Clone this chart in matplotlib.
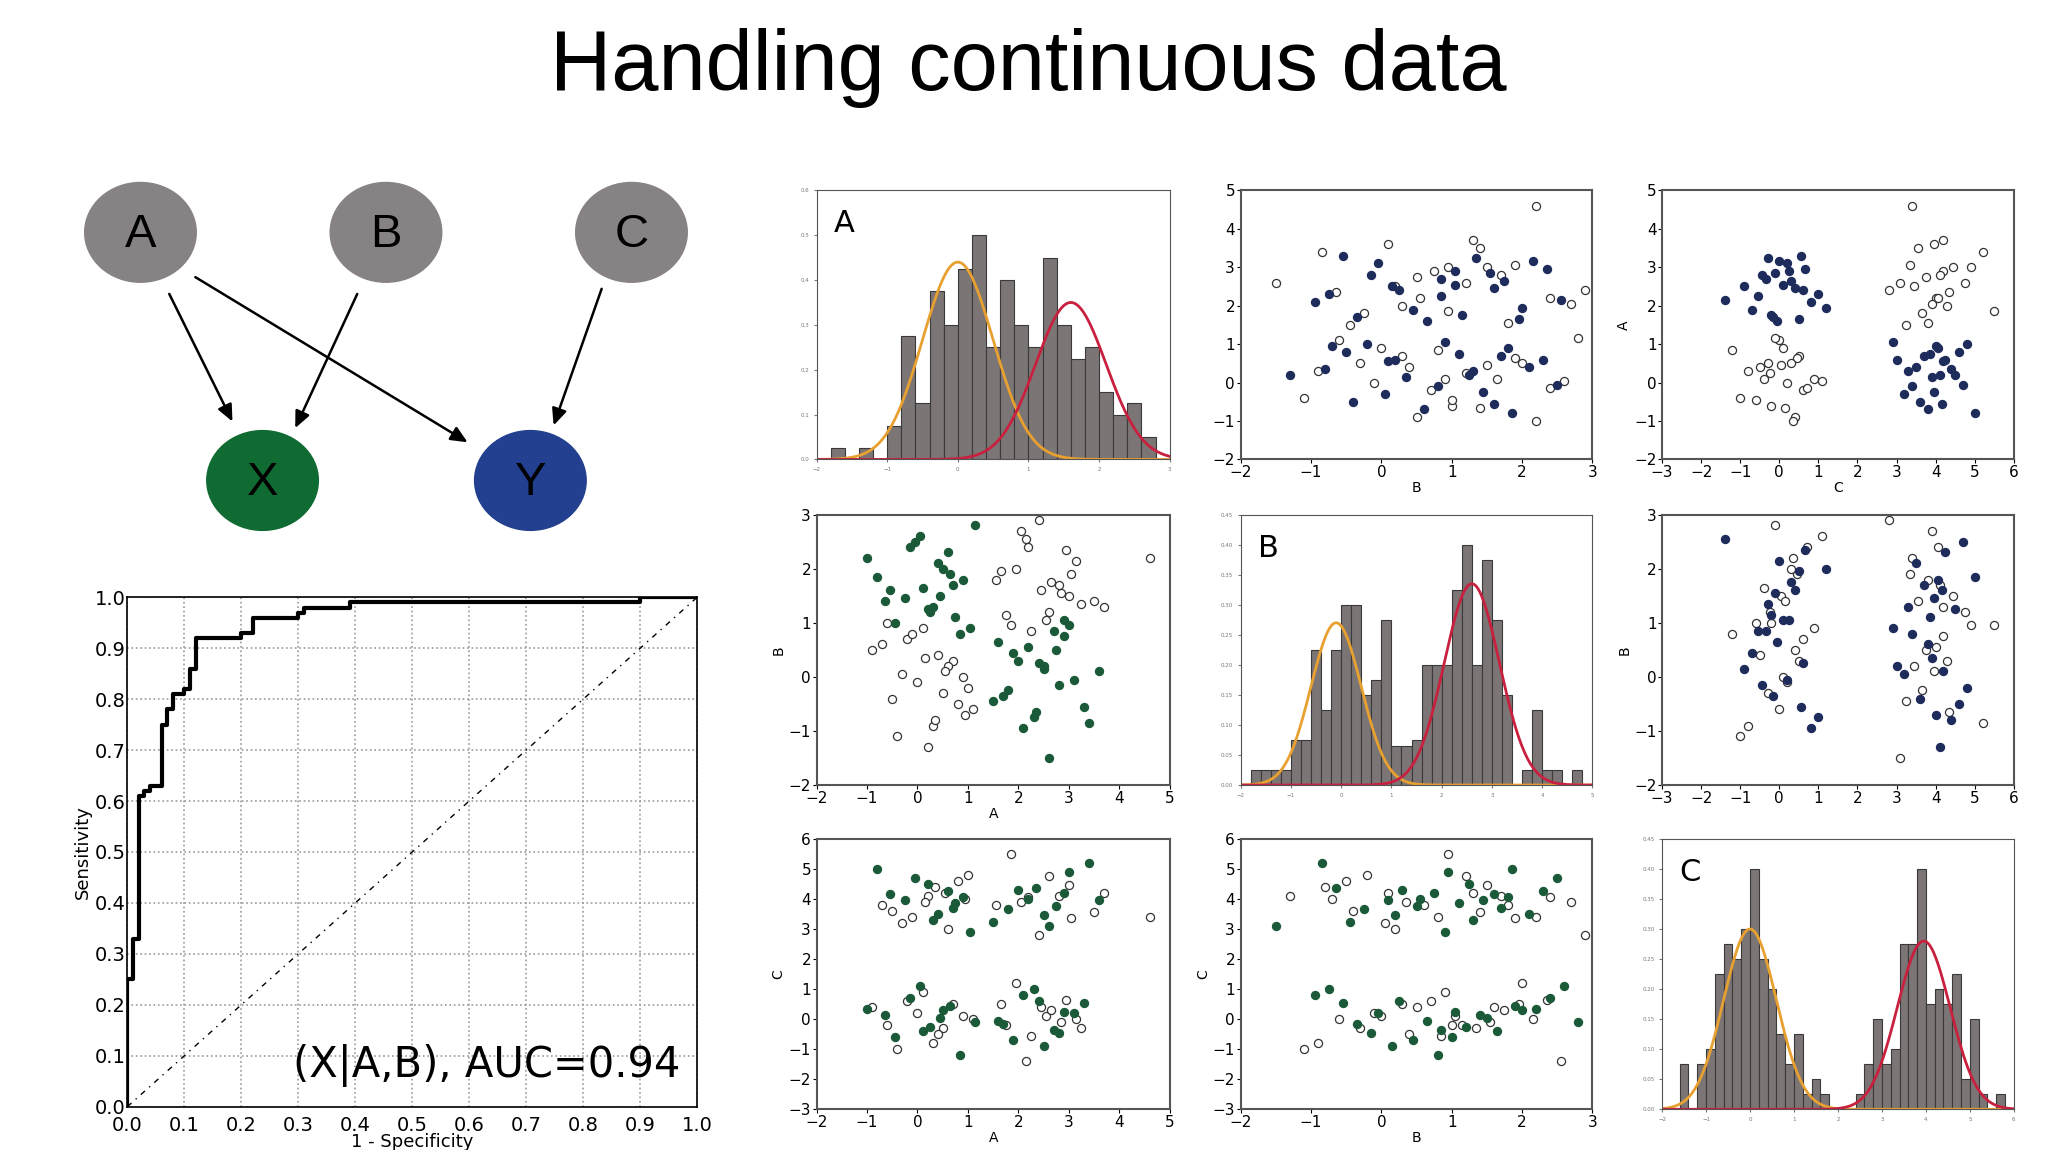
import numpy as np
import matplotlib
matplotlib.use("Agg")
import matplotlib.pyplot as plt
from matplotlib.patches import Ellipse

# ---------------- data ----------------
A_low = [-0.9,-0.4,0.1,0.5,0.9,-0.2,0.3,0.7,1.1,-0.6,0.0,0.4,
         0.8,-0.1,0.2,0.6,1.0,-0.7,-0.3,0.35,0.15,0.55,-0.5,0.95,
         -1.0,-0.45,0.05,0.45,0.85,-0.15,0.25,0.65,1.15,-0.65,0.1,0.5,
         0.75,-0.05,0.3,0.6,1.05,-0.8,-0.25,0.4,0.2,0.7,-0.55,0.9]
A_high = [1.6,2.1,2.5,2.9,3.3,1.9,2.3,2.7,3.1,1.7,2.4,2.8,
          2.0,2.6,3.0,1.8,2.2,3.4,2.5,2.9,1.5,3.6,2.35,2.75,
          1.65,2.15,2.55,2.95,3.25,1.95,2.25,2.65,3.15,1.75,2.45,2.85,
          2.05,2.6,3.05,1.85,2.2,3.5,2.4,3.0,1.55,3.7,4.6,2.8]
B_low1 = [0.5,-1.1,0.9,-0.3,0.0,0.7,-0.9,0.3,-0.6,1.0,-0.1,0.4,
          -0.5,0.8,-1.3,0.2,-0.2,0.6,0.05,-0.8,0.35,0.1,-0.4,-0.7]
B_high1 = [2.2,1.0,2.6,1.5,0.8,2.4,1.2,1.9,2.8,1.4,1.65,2.0,
           1.1,2.5,1.3,2.3,0.9,1.85,1.45,2.1,1.25,1.7,1.6,1.8]
B_low2 = [0.65,-0.95,0.15,1.05,-0.55,0.45,-0.75,0.85,-0.05,-0.35,0.25,-0.15,
          0.3,-1.5,0.95,-0.25,0.55,-0.85,0.2,0.75,-0.45,0.1,-0.65,0.5]
B_high2 = [1.95,2.55,1.05,2.35,1.35,2.0,0.85,1.75,2.15,1.15,1.6,1.55,
           2.7,1.2,1.9,0.95,2.4,1.4,2.9,1.5,1.8,1.3,2.2,1.7]
C_L1 = [0.4,-1.0,0.9,-0.3,0.1,0.6,-0.8,0.5,0.0,-0.2,0.2,-0.5]
C_H1 = [4.6,3.4,4.1,3.0,4.8,3.8,3.2,4.4,3.9,4.2,3.6,4.0]
C_L2 = [0.35,-0.6,1.1,0.05,-1.2,0.7,-0.25,0.45,-0.1,0.15,-0.4,0.3]
C_H2 = [3.85,4.7,3.3,4.25,2.9,5.0,3.95,3.5,4.5,3.7,4.15,4.05]
C_L3 = [-0.05,0.8,-0.9,0.25,0.55,-0.7,1.0,-0.35,0.2,-0.15,0.6,-0.45]
C_H3 = [4.3,3.1,4.9,3.65,4.0,5.2,3.45,4.2,3.25,3.95,4.35,3.75]
C_L4 = [0.5,-1.4,0.1,0.65,-0.3,1.2,-0.55,0.3,0.0,-0.2,0.4,-0.1]
C_H4 = [3.9,4.75,3.35,5.5,4.05,3.55,2.8,4.45,3.8,4.2,3.4,4.1]
# per block of 12 samples: X (green) and Y (blue) membership
X_block = [0,0,1,1,1,1,0,0]
Y_block = [0,1,0,1,1,0,1,0]

A_vals = np.array(A_low + A_high)
B_vals = np.array(B_low1 + B_high1 + B_low2 + B_high2)
C_vals = np.array(C_L1 + C_H1 + C_L2 + C_H2 + C_L3 + C_H3 + C_L4 + C_H4)
X_cls = np.repeat(X_block, 12).astype(bool)
Y_cls = np.repeat(Y_block, 12).astype(bool)

histA_start, histA_heights = -1.8, [0.025,0,0.025,0,0.075,0.275,0.125,0.375,0.3,0.425,0.5,0.25,
                                    0.4,0.3,0.25,0.45,0.3,0.225,0.25,0.15,0.1,0.125,0.05]
histB_start, histB_heights = -1.8, [0.025,0.025,0.025,0.025,0.075,0.075,0.225,0.125,0.225,0.3,0.3,0.15,
                                    0.175,0.275,0.065,0.065,0.075,0.2,0.2,0.2,0.325,0.4,0.2,0.375,
                                    0.275,0.15,0,0.025,0.125,0.025,0.025,0,0.025]
histC_start, histC_heights = -1.6, [0.075,0,0.075,0.1,0.225,0.275,0.25,0.3,0.4,0.25,0.2,0.125,0.075,
                                    0.125,0.025,0.05,0.025,0,0,0,0.025,0.075,0.15,0.075,0.1,0.275,
                                    0.275,0.4,0.175,0.2,0.175,0.225,0.05,0.15,0.025,0,0.025]
# gaussian fits: (mean, sd, peak)
fitA = [(0.0, 0.5, 0.44), (1.6, 0.5, 0.35)]
fitB = [(-0.1, 0.5, 0.27), (2.6, 0.55, 0.335)]
fitC = [(0.0, 0.6, 0.30), (3.95, 0.6, 0.28)]

roc_fpr = [0,0,0.01,0.01,0.02,0.02,0.03,0.04,0.06,0.06,0.07,0.07,0.08,0.08,0.10,0.10,0.11,0.11,
           0.12,0.12,0.20,0.20,0.22,0.22,0.30,0.30,0.31,0.31,0.39,0.39,0.90,0.90,1.0]
roc_tpr = [0,0.25,0.25,0.33,0.33,0.61,0.62,0.63,0.63,0.75,0.75,0.78,0.78,0.81,0.81,0.82,0.82,0.86,
           0.86,0.92,0.92,0.93,0.93,0.96,0.96,0.97,0.97,0.98,0.98,0.99,0.99,1.0,1.0]

# ---------------- figure ----------------
W, H = 1560.0, 876.0
fig = plt.figure(figsize=(20.48, 11.5), dpi=100)
fig.patch.set_facecolor("white")

def rect(x0, y0, x1, y1):
    return [x0 / W, 1 - y1 / H, (x1 - x0) / W, (y1 - y0) / H]

fig.text(783 / W, 1 - 52 / H, "Handling continuous data", ha="center", va="center",
         fontsize=61, family="Liberation Sans")

# DAG
dag = fig.add_axes([0, 0, 1, 1])
dag.set_xlim(0, W); dag.set_ylim(H, 0); dag.axis("off")
nodes = {"A": (107, 177, "#878283"), "B": (294, 177, "#878283"), "C": (481, 177, "#878283"),
         "X": (200, 366, "#0f6b31"), "Y": (404, 366, "#22408f")}
for k, (x, y, c) in nodes.items():
    dag.add_patch(Ellipse((x, y), 85, 76, color=c))
    dag.text(x, y + 2, k, ha="center", va="center", fontsize=34, family="Liberation Sans", color="black")
edges = [((128, 222), (178, 323)), ((147, 210), (358, 338)), ((273, 222), (224, 328)), ((459, 218), (421, 326))]
for s, e in edges:
    dag.annotate("", xy=e, xytext=s, arrowprops=dict(arrowstyle="-|>,head_length=1.0,head_width=0.45",
                                                     color="black", lw=1.8))

# ROC
roc = fig.add_axes(rect(97, 455, 531, 843))
roc.step(roc_fpr, roc_tpr, where="post", color="black", lw=3)
roc.plot([0, 1], [0, 1], color="black", ls=(0, (4, 4, 1, 4)), lw=1)
roc.set_xlim(0, 1); roc.set_ylim(0, 1)
ticks = np.arange(0, 1.01, 0.1)
roc.set_xticks(ticks); roc.set_yticks(ticks)
roc.set_xticklabels([f"{v:.1f}" for v in ticks])
roc.set_yticklabels([f"{v:.1f}" for v in ticks])
roc.grid(True, ls=":", color="#999999", lw=1.2)
roc.tick_params(labelsize=14, length=0)
roc.tick_params(axis="x", pad=7)
roc.tick_params(axis="y", pad=1)
roc.set_xlabel("1 - Specificity", fontsize=13, labelpad=-2)
roc.set_ylabel("Sensitivity", fontsize=13, labelpad=2)
roc.text(0.97, 0.08, "(X|A,B), AUC=0.94", transform=roc.transAxes, ha="right", va="center", fontsize=30)
for s in roc.spines.values():
    s.set_linewidth(1.2)

cols = [(622, 891), (945, 1213), (1266, 1534)]
rows = [(145, 350), (392, 598), (639, 845)]
orange, red = "#e8a030", "#c8203e"
green, navy = "#1b5a38", "#1e2c5c"

def hist_panel(ax, start, heights, fits, xlim, ylim, yt, label):
    edges_ = start + 0.2 * np.arange(len(heights))
    ax.bar(edges_, heights, width=0.2, align="edge", color="#7b7675", edgecolor="#3a3a3a", lw=0.8)
    xs = np.linspace(xlim[0], xlim[1], 300)
    for (m, sd, pk), c in zip(fits, [orange, red]):
        ax.plot(xs, pk * np.exp(-0.5 * ((xs - m) / sd) ** 2), color=c, lw=2)
    ax.set_xlim(*xlim); ax.set_ylim(*ylim)
    ax.set_xticks(np.arange(xlim[0], xlim[1] + 1)); ax.set_yticks(yt)
    ax.tick_params(labelsize=4, length=2, colors="#777777")
    ax.text(0.05, 0.93, label, transform=ax.transAxes, fontsize=22, va="top")

def scat(ax, x, y, cls, col, xlim, ylim, xl, yl):
    ax.scatter(x[~cls], y[~cls], s=34, facecolor="white", edgecolor="#333333", lw=0.9, zorder=2)
    ax.scatter(x[cls], y[cls], s=34, facecolor=col, edgecolor=col, lw=0.9, zorder=3)
    ax.set_xlim(*xlim); ax.set_ylim(*ylim)
    ax.set_xticks(np.arange(xlim[0], xlim[1] + 1)); ax.set_yticks(np.arange(ylim[0], ylim[1] + 1))
    ax.set_xticklabels([f"\u2212{-v}" if v < 0 else str(v) for v in range(xlim[0], xlim[1] + 1)])
    ax.set_yticklabels([f"\u2212{-v}" if v < 0 else str(v) for v in range(ylim[0], ylim[1] + 1)])
    ax.tick_params(labelsize=11, length=3, pad=1)
    if xl: ax.set_xlabel(xl, fontsize=10, labelpad=1)
    if yl: ax.set_ylabel(yl, fontsize=10, labelpad=2)

axes = {}
for i, (y0, y1) in enumerate(rows):
    for j, (x0, x1) in enumerate(cols):
        a = fig.add_axes(rect(x0, y0, x1, y1))
        for s in a.spines.values():
            s.set_color("#555555"); s.set_linewidth(1.5 if i != j else 0.8)
        axes[(i, j)] = a

hist_panel(axes[(0, 0)], histA_start, histA_heights, fitA, (-2, 3), (0, 0.6), np.arange(0, 0.61, 0.1), "A")
hist_panel(axes[(1, 1)], histB_start, histB_heights, fitB, (-2, 5), (0, 0.45), np.arange(0, 0.451, 0.05), "B")
hist_panel(axes[(2, 2)], histC_start, histC_heights, fitC, (-2, 6), (0, 0.45), np.arange(0, 0.451, 0.05), "C")

scat(axes[(0, 1)], B_vals, A_vals, Y_cls, navy, (-2, 3), (-2, 5), "B", None)
scat(axes[(0, 2)], C_vals, A_vals, Y_cls, navy, (-3, 6), (-2, 5), "C", "A")
scat(axes[(1, 0)], A_vals, B_vals, X_cls, green, (-2, 5), (-2, 3), "A", "B")
scat(axes[(1, 2)], C_vals, B_vals, Y_cls, navy, (-3, 6), (-2, 3), None, "B")
scat(axes[(2, 0)], A_vals, C_vals, X_cls, green, (-2, 5), (-3, 6), "A", "C")
scat(axes[(2, 1)], B_vals, C_vals, X_cls, green, (-2, 3), (-3, 6), "B", "C")

fig.savefig("out.png", dpi=100, facecolor="white")
